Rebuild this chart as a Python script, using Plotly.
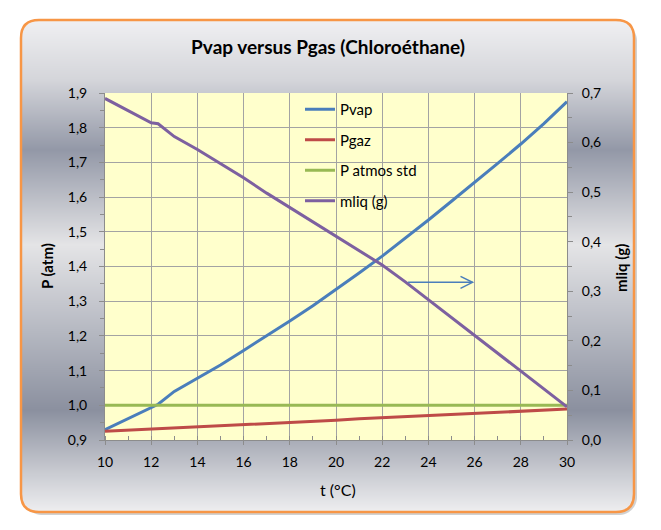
import base64
import struct
import zlib

import numpy as np
import plotly.graph_objects as go

# ---------------- data ----------------
t_values = [10, 11, 12, 12.3, 13, 14, 15, 16, 17, 18, 19, 20, 21, 22, 23, 24, 25, 26, 27, 28, 29, 30]
pvap = [0.930, 0.962, 0.993, 1.003, 1.040, 1.077, 1.116, 1.158, 1.200, 1.243, 1.287, 1.333,
        1.381, 1.430, 1.481, 1.534, 1.588, 1.642, 1.697, 1.753, 1.812, 1.875]
pgaz = [0.925, 0.928, 0.931, 0.932, 0.935, 0.938, 0.941, 0.944, 0.948, 0.951, 0.954, 0.957,
        0.961, 0.964, 0.967, 0.970, 0.974, 0.977, 0.980, 0.983, 0.986, 0.989]
patm = [1.0] * len(t_values)
mliq = [0.689, 0.665, 0.640, 0.638, 0.612, 0.586, 0.558, 0.529, 0.498, 0.469, 0.440, 0.411,
        0.383, 0.353, 0.319, 0.283, 0.247, 0.211, 0.175, 0.139, 0.103, 0.067]

series_names = ["Pvap", "Pgaz", "P atmos std", "mliq (g)"]
series_colors = ["#4A7EBB", "#BE4B48", "#98B954", "#7D60A0"]

title_text = "Pvap versus Pgas (Chloroéthane)"
x_title = "t (°C)"
y_title = "P (atm)"
y2_title = "mliq (g)"

# ---------------- geometry (page pixel coordinates) ----------------
OFF = 8                      # default page body margin
W, H = 661 - 2 * OFF, 530 - 2 * OFF
PLOT_L, PLOT_R, PLOT_T, PLOT_B = 105, 567, 93, 440   # plot area in page pixels
ML = PLOT_L - OFF
MR = W - (PLOT_R - OFF)
MT = PLOT_T - OFF
MB = H - (PLOT_B - OFF)
PW = PLOT_R - PLOT_L
PH = PLOT_B - PLOT_T


def px(xp):
    return (xp - PLOT_L) / PW


def py(yp):
    return (PLOT_B - yp) / PH


def rounded_path(x0, y0, x1, y1, r):
    pts = [
        ("M", [(x0 + r, y0)]),
        ("L", [(x1 - r, y0)]),
        ("Q", [(x1, y0), (x1, y0 + r)]),
        ("L", [(x1, y1 - r)]),
        ("Q", [(x1, y1), (x1 - r, y1)]),
        ("L", [(x0 + r, y1)]),
        ("Q", [(x0, y1), (x0, y1 - r)]),
        ("L", [(x0, y0 + r)]),
        ("Q", [(x0, y0), (x0 + r, y0)]),
    ]
    s = ""
    for cmd, ps in pts:
        s += cmd + " " + " ".join(f"{px(a):.5f},{py(b):.5f}" for a, b in ps) + " "
    return s + "Z"


# ---------------- background gradient image ----------------
BX0, BY0, BX1, BY1, BR = 21, 20, 634, 512, 18
SH = 3  # shadow offset

stops_y = [20, 80, 150, 245, 330, 410, 475, 512]
stops_c = ["#F0F0F2", "#D4D5DA", "#9398A7", "#E4E4E6", "#B6B9C2", "#8B909F", "#CBCDD3", "#EEEEF0"]


def hex2rgb(h):
    h = h.lstrip("#")
    return [int(h[i:i + 2], 16) for i in (0, 2, 4)]


stops_rgb = np.array([hex2rgb(c) for c in stops_c], dtype=float)

IX0, IY0 = BX0 - 2, BY0 - 2
IW, IH = (BX1 + SH + 3) - IX0, (BY1 + SH + 3) - IY0
yy, xx = np.mgrid[0:IH, 0:IW].astype(float)
gx = xx + IX0 + 0.5
gy = yy + IY0 + 0.5


def rr_cov(x0, y0, x1, y1, r):
    cx, cy = (x0 + x1) / 2, (y0 + y1) / 2
    hw, hh = (x1 - x0) / 2, (y1 - y0) / 2
    qx = np.abs(gx - cx) - (hw - r)
    qy = np.abs(gy - cy) - (hh - r)
    d = np.sqrt(np.maximum(qx, 0) ** 2 + np.maximum(qy, 0) ** 2) + np.minimum(np.maximum(qx, qy), 0) - r
    return np.clip(0.5 - d, 0, 1)


cov_box = rr_cov(BX0, BY0, BX1, BY1, BR)
cov_sh = rr_cov(BX0 + SH, BY0 + SH, BX1 + SH, BY1 + SH, BR)

rgb = np.zeros((IH, IW, 3))
for k in range(3):
    rgb[:, :, k] = np.interp(gy, stops_y, stops_rgb[:, k])
sh_alpha = 0.18 * cov_sh * (1 - cov_box)
alpha = cov_box + sh_alpha
col = np.where(alpha[..., None] > 0,
               (rgb * cov_box[..., None]) / np.maximum(alpha, 1e-9)[..., None],
               0)
img = np.dstack([np.clip(col, 0, 255), np.clip(alpha * 255, 0, 255)]).round().astype(np.uint8)


def make_png(arr):
    h, w, _ = arr.shape
    raw = b"".join(b"\x00" + arr[i].tobytes() for i in range(h))

    def chunk(tag, data):
        c = tag + data
        return struct.pack(">I", len(data)) + c + struct.pack(">I", zlib.crc32(c) & 0xFFFFFFFF)

    return (b"\x89PNG\r\n\x1a\n" + chunk(b"IHDR", struct.pack(">IIBBBBB", w, h, 8, 6, 0, 0, 0))
            + chunk(b"IDAT", zlib.compress(raw, 9)) + chunk(b"IEND", b""))


bg_src = "data:image/png;base64," + base64.b64encode(make_png(img)).decode()

images = [dict(source=bg_src, xref="paper", yref="paper", x=px(IX0), y=py(IY0),
               sizex=IW / PW, sizey=IH / PH, xanchor="left", yanchor="top",
               sizing="stretch", layer="below")]

shapes = [
    dict(type="path", xref="paper", yref="paper", layer="below",
         path=rounded_path(BX0, BY0, BX1, BY1, BR),
         fillcolor="rgba(0,0,0,0)", line=dict(color="#F79646", width=2.5)),
    dict(type="rect", xref="paper", yref="paper", layer="below",
         x0=0, x1=1, y0=0, y1=1, fillcolor="#FFFFCC", line=dict(width=0)),
]

# arrow (right axis coordinates)
arrow_y = 0.318
arrow_x0, arrow_x1 = 23.12, 25.91
shapes.append(dict(type="line", xref="x", yref="y2", x0=arrow_x0, x1=arrow_x1,
                   y0=arrow_y, y1=arrow_y, line=dict(color="#4A7EBB", width=1.5)))
shapes.append(dict(type="path", xref="x", yref="y2",
                   path=f"M {arrow_x1 - 0.52},{arrow_y + 0.012} L {arrow_x1},{arrow_y} L {arrow_x1 - 0.52},{arrow_y - 0.012}",
                   line=dict(color="#4A7EBB", width=1.5)))

fig = go.Figure()
for name, vals, c in zip(series_names[:3], [pvap, pgaz, patm], series_colors[:3]):
    fig.add_trace(go.Scatter(x=t_values, y=vals, mode="lines", name=name, legendgroup=name,
                             line=dict(color=c, width=3)))
fig.add_trace(go.Scatter(x=t_values, y=mliq, mode="lines", name=series_names[3],
                         legendgroup=series_names[3], yaxis="y2",
                         line=dict(color=series_colors[3], width=3)))

FONT = "Lato, 'Open Sans', sans-serif"
grid = "#A3A3A3"
axcol = "#8C8C8C"

fig.update_layout(
    width=W, height=H,
    margin=dict(l=ML, r=MR, t=MT, b=MB),
    paper_bgcolor="white",
    plot_bgcolor="rgba(0,0,0,0)",
    separators=", ",
    font=dict(family=FONT, size=14, color="#000000"),
    title=dict(text="<b>" + title_text + "</b>", x=(328 - OFF) / W, xanchor="center",
               y=1 - (47 - OFF) / H, yanchor="middle", yref="container",
               font=dict(family=FONT, size=19, color="#000000")),
    showlegend=True,
    legend=dict(x=px(300), xanchor="left", y=py(93), yanchor="top",
                bgcolor="rgba(0,0,0,0)", borderwidth=0,
                traceorder="grouped", tracegroupgap=8,
                font=dict(family=FONT, size=15, color="#000000")),
    xaxis=dict(range=[10, 30], dtick=2, tick0=10, showgrid=True, gridcolor=grid, gridwidth=1,
               showline=True, linecolor=axcol, linewidth=1, ticks="outside", ticklen=4,
               tickcolor=axcol, zeroline=False, ticklabelstandoff=5,
               minor=dict(dtick=1, ticks="inside", ticklen=4, tickcolor=axcol, showgrid=False),
               tickfont=dict(size=14)),
    yaxis=dict(range=[0.9, 1.9], dtick=0.1, tick0=0.9, tickformat=".1f", showgrid=True,
               gridcolor=grid, gridwidth=1, showline=True, linecolor=axcol, linewidth=1,
               ticks="outside", ticklen=5, tickcolor=axcol, zeroline=False,
               ticklabelstandoff=9,
               minor=dict(dtick=0.05, ticks="outside", ticklen=4, tickcolor=axcol, showgrid=False),
               tickfont=dict(size=14)),
    yaxis2=dict(range=[0.0, 0.7], dtick=0.1, tick0=0, tickformat=".1f", overlaying="y",
                side="right", showgrid=False, showline=True, linecolor=axcol, linewidth=1,
                ticks="outside", ticklen=5, tickcolor=axcol, zeroline=False,
                ticklabelstandoff=6,
                minor=dict(dtick=0.05, ticks="outside", ticklen=4, tickcolor=axcol, showgrid=False),
                tickfont=dict(size=14)),
    images=images,
    shapes=shapes,
    annotations=[
        dict(text=x_title, xref="paper", yref="paper", x=px(338), y=py(489),
             showarrow=False, xanchor="center", yanchor="middle",
             font=dict(family=FONT, size=16, color="#000000")),
        dict(text="<b>" + y_title + "</b>", xref="paper", yref="paper", x=px(47), y=py(266),
             showarrow=False, textangle=-90, xanchor="center", yanchor="middle",
             font=dict(family=FONT, size=15, color="#000000")),
        dict(text="<b>" + y2_title + "</b>", xref="paper", yref="paper", x=px(621), y=py(268),
             showarrow=False, textangle=-90, xanchor="center", yanchor="middle",
             font=dict(family=FONT, size=15, color="#000000")),
    ],
)

fig.write_html("out.html")
